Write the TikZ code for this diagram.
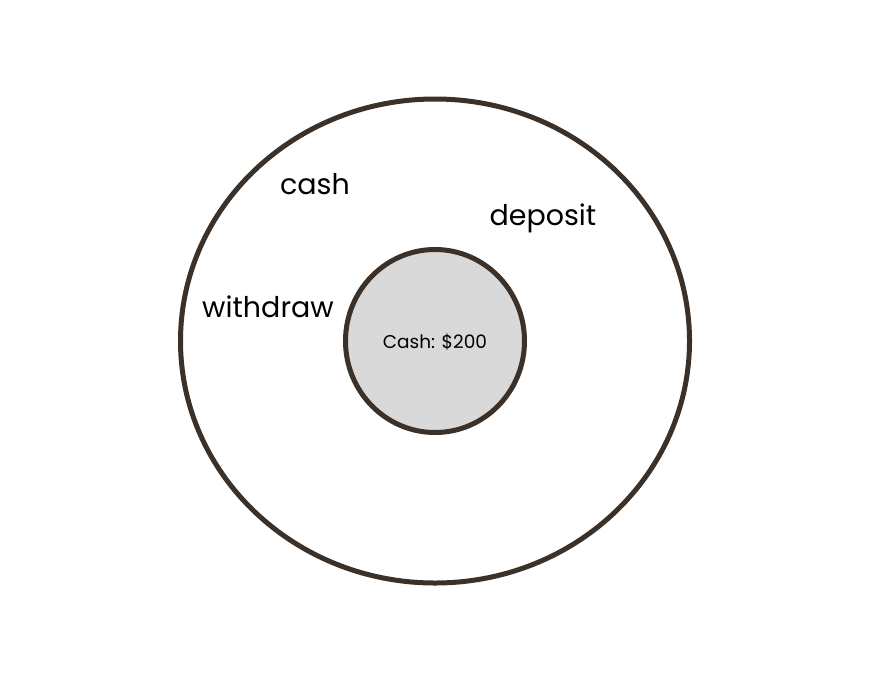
\documentclass[tikz,border=0pt]{standalone}
\usepackage{fontspec}
\usetikzlibrary{shapes.geometric}
\setmainfont{Poppins}
\definecolor{ring}{HTML}{3B3128}
\definecolor{core}{HTML}{D9D9D9}
\begin{document}
\begin{tikzpicture}[x=1pt,y=-1pt,
  ringline/.style={draw=ring,line width=5pt,ellipse,inner sep=0pt},
  biglabel/.style={font=\fontsize{28.5}{32}\selectfont,text=black,inner sep=0pt},
  smalllabel/.style={font=\fontsize{18.5}{22}\selectfont,text=black,inner sep=0pt}]
\useasboundingbox (0,0) rectangle (874,672);
\node[ringline,fill=white,minimum width=509pt,minimum height=484pt] (outer) at (435,341) {};
\node[ringline,fill=core,minimum width=179pt,minimum height=183pt] (core) at (435,341) {};
\node[smalllabel] (cashval) at (435,342) {Cash: \$200};
\node[biglabel] (cash) at (315,184) {cash};
\node[biglabel] (deposit) at (543,218) {deposit};
\node[biglabel] (withdraw) at (268,307) {withdraw};
\end{tikzpicture}
\end{document}
